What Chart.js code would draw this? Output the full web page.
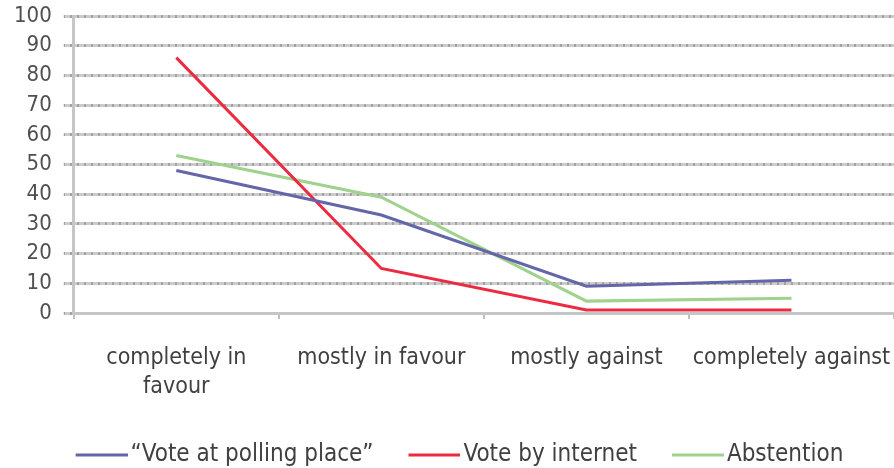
<!DOCTYPE html>
<html>
<head>
<meta charset="utf-8">
<script src="https://cdn.jsdelivr.net/npm/chart.js@4.4.0/dist/chart.umd.min.js"></script>
<style>
  html, body { margin: 0; padding: 0; background: #fff; }
  #wrap { width: 894px; height: 468px; }
</style>
</head>
<body>
<div id="wrap"><canvas id="myChart" width="894" height="468"></canvas></div>
<script>
const categories = [["completely in", "favour"], "mostly in favour", "mostly against", "completely against"];
const pollingPlace = [48, 33, 9, 11];
const internet = [86, 15, 1, 1];
const abstention = [53, 39, 4, 5];
const seriesNames = ["\u201cVote at polling place\u201d", "Vote by internet", "Abstention"];
const yTicks = [0, 10, 20, 30, 40, 50, 60, 70, 80, 90, 100];

const colors = ["#6466aa", "#ec2a40", "#9fd28c"];

// legend swatch: 52px line placed in the right part of the canvas
function lineSwatch(color) {
  const c = document.createElement("canvas");
  c.width = 84;
  c.height = 6;
  const g = c.getContext("2d");
  g.strokeStyle = color;
  g.lineWidth = 3;
  g.beginPath();
  g.moveTo(32, 3);
  g.lineTo(84, 3);
  g.stroke();
  return c;
}

// dotted gray gridline look
function gridPattern() {
  const c = document.createElement("canvas");
  c.width = 7;
  c.height = 1;
  const g = c.getContext("2d");
  g.fillStyle = "#cbcbcb";
  g.fillRect(0, 0, 7, 1);
  g.fillStyle = "#a2a2a2";
  g.fillRect(0, 0, 2, 1);
  return g.createPattern(c, "repeat");
}

const font = "'DejaVu Sans Condensed', 'Liberation Sans Narrow', 'Liberation Sans', sans-serif";

const ctx = document.getElementById("myChart");

new Chart(ctx, {
  type: "line",
  data: {
    labels: categories,
    datasets: [
      { label: seriesNames[0], data: pollingPlace, borderColor: colors[0], backgroundColor: colors[0], borderWidth: 3, pointRadius: 0, tension: 0 },
      { label: seriesNames[1], data: internet, borderColor: colors[1], backgroundColor: colors[1], borderWidth: 3, pointRadius: 0, tension: 0 },
      { label: seriesNames[2], data: abstention, borderColor: colors[2], backgroundColor: colors[2], borderWidth: 3, pointRadius: 0, tension: 0 }
    ]
  },
  options: {
    responsive: false,
    animation: false,
    layout: { padding: { top: 16, right: 0, left: 2, bottom: -9 } },
    plugins: {
      tooltip: { enabled: false },
      legend: {
        position: "bottom",
        labels: {
          color: "#404040",
          font: { family: font, size: 24, lineHeight: 1 },
          usePointStyle: true,
          pointStyleWidth: 66,
          padding: 12,
          generateLabels(chart) {
            const items = Chart.defaults.plugins.legend.labels.generateLabels(chart);
            items.forEach((it, i) => { it.pointStyle = lineSwatch(colors[i]); });
            return items;
          }
        }
      }
    },
    scales: {
      x: {
        offset: true,
        grid: { display: true, drawOnChartArea: false, offset: true, color: "#c0c0c0", lineWidth: 2, tickLength: 6 },
        border: { display: true, color: "#c6c6c6", width: 3 },
        ticks: { color: "#404040", font: { family: font, size: 23, lineHeight: 1.26 }, maxRotation: 0, padding: 25 },
        afterFit(scale) {
          scale.paddingRight = 0;
          scale.paddingLeft = 0;
          scale.height = 118;
        }
      },
      y: {
        min: 0,
        max: 100,
        afterBuildTicks(axis) { axis.ticks = yTicks.map(v => ({ value: v })); },
        grid: { color: gridPattern(), lineWidth: 3, tickLength: 10 },
        border: { display: true, color: "#c6c6c6", width: 3 },
        ticks: { color: "#505050", font: { family: font, size: 22 }, padding: 12, autoSkip: false },
        afterFit(scale) {
          scale.paddingTop = 0;
          scale.paddingBottom = 0;
        }
      }
    }
  }
});
</script>
</body>
</html>
